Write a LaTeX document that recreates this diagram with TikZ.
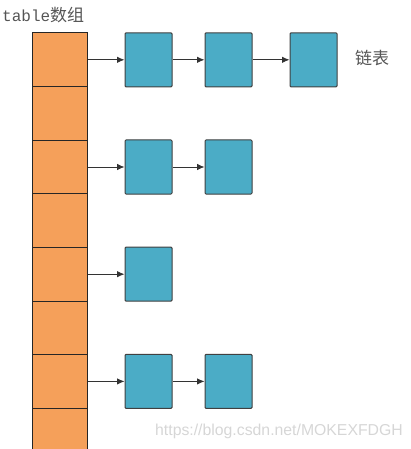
\documentclass[tikz,border=0pt]{standalone}
\usepackage{fontspec}
\newfontfamily\cjk{Noto Sans CJK SC}
\newfontfamily\monofont{Liberation Mono}
\newfontfamily\urlfont{Liberation Sans}
\usetikzlibrary{arrows.meta,positioning}
\definecolor{cellorange}{HTML}{F5A05A}
\definecolor{nodeblue}{HTML}{4BACC6}
\definecolor{txtgrey}{HTML}{555555}

\begin{document}
\begin{tikzpicture}[x=1pt,y=-1pt,
  cell/.style={draw=black!85,fill=cellorange,line width=1pt,minimum width=55pt,minimum height=53.6pt,inner sep=0pt},
  entry/.style={draw=black!75,fill=nodeblue,line width=1pt,minimum width=47pt,minimum height=54pt,rounded corners=1pt,inner sep=0pt},
  link/.style={-{Latex[length=7.5pt,width=6.5pt]},black!80,line width=0.9pt},
  lbl/.style={text=txtgrey,inner sep=0pt,font=\fontsize{17}{17}\cjk}]
  \useasboundingbox (0,0) rectangle (411,449);
  \clip (0,0) rectangle (411,449);
  % table array
  \foreach \i in {1,...,8}
    \node[cell] (c\i) at (59.5,{33+53.6*(\i-0.5)}) {};
  \node[lbl,anchor=west] (title) at (2,15) {{\fontsize{16}{16}\monofont table}数组};
  % linked lists
  \node[entry,right=37pt of c1] (e11) {};
  \node[entry,right=32pt of e11] (e12) {};
  \node[entry,right=37pt of e12] (e13) {};
  \node[lbl,anchor=west] (list) at (355,58) {链表};
  \node[entry,right=37pt of c3] (e31) {};
  \node[entry,right=32pt of e31] (e32) {};
  \node[entry,right=37pt of c5] (e51) {};
  \node[entry,right=37pt of c7] (e71) {};
  \node[entry,right=32pt of e71] (e72) {};
  \draw[link] (c1) -- (e11);
  \draw[link] (e11) -- (e12);
  \draw[link] (e12) -- (e13);
  \draw[link] (c3) -- (e31);
  \draw[link] (e31) -- (e32);
  \draw[link] (c5) -- (e51);
  \draw[link] (c7) -- (e71);
  \draw[link] (e71) -- (e72);
  % watermark
  \node[anchor=west,inner sep=0pt,text=black!16,font=\fontsize{15.8}{16}\urlfont] (mark) at (155,431) {https://blog.csdn.net/MOKEXFDGH};
\end{tikzpicture}
\end{document}
